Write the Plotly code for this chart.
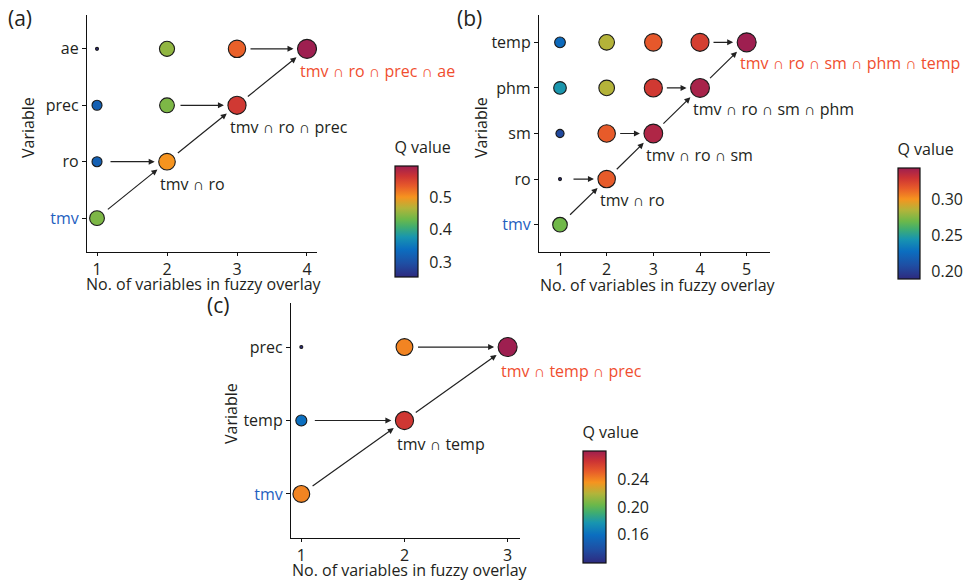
import numpy as np
import plotly.graph_objects as go

W, H = 965, 581

# ---------------- data ----------------
a_vars = ["tmv", "ro", "prec", "ae"]
a_x = [1, 1, 1, 1, 2, 2, 2, 3, 3, 4]
a_var = ["tmv", "ro", "prec", "ae", "ro", "prec", "ae", "prec", "ae", "ae"]
a_q = [0.44, 0.32, 0.32, 0.255, 0.50, 0.44, 0.45, 0.56, 0.53, 0.595]
a_path = ["tmv", "ro", "prec", "ae"]
a_ticks = [0.3, 0.4, 0.5]

b_vars = ["tmv", "ro", "sm", "phm", "temp"]
b_x = [1, 1, 1, 1, 1, 2, 2, 2, 2, 3, 3, 3, 4, 4, 5]
b_var = ["tmv", "ro", "sm", "phm", "temp", "ro", "sm", "phm", "temp",
         "sm", "phm", "temp", "phm", "temp", "temp"]
b_q = [0.27, 0.189, 0.205, 0.245, 0.225, 0.315, 0.315, 0.285, 0.285,
       0.338, 0.327, 0.316, 0.34, 0.325, 0.343]
b_path = ["tmv", "ro", "sm", "phm", "temp"]
b_ticks = [0.20, 0.25, 0.30]

c_vars = ["tmv", "temp", "prec"]
c_x = [1, 1, 1, 2, 2, 3]
c_var = ["tmv", "temp", "prec", "temp", "prec", "prec"]
c_q = [0.24, 0.16, 0.119, 0.265, 0.24, 0.281]
c_path = ["tmv", "temp", "prec"]
c_ticks = [0.16, 0.20, 0.24]

X_TITLE = "No. of variables in fuzzy overlay"
Y_TITLE = "Variable"
CB_TITLE = "Q value"

# ---------------- styles ----------------
FONT = "Open Sans"
TXT = "#231f20"
RED = "#f04e2f"
BLUE = "#1f5fbf"
COLORSCALE = [
    [0.00, "#2e2a7f"], [0.12, "#1f4ea3"], [0.25, "#0b6ec0"], [0.36, "#1895b0"],
    [0.45, "#40ad70"], [0.52, "#6cb84a"], [0.62, "#b2b43a"], [0.72, "#f6941f"],
    [0.82, "#e75a2a"], [0.91, "#cc3334"], [1.00, "#9e1f50"],
]
SMIN, SMAX = 3, 19


def sizes(q):
    q = np.asarray(q, float)
    return SMIN + (SMAX - SMIN) * np.sqrt((q - q.min()) / (q.max() - q.min()))


panels = [
    dict(vars=a_vars, x=a_x, var=a_var, q=a_q, path=a_path, ticks=a_ticks, tfmt="%.1f",
         xdom=(87, 317), ydom=(15, 252), xr=[0.857, 4.143],
         cb=dict(x=395, y0=163, y1=277, th=23), lab="(a)", labpos=(6, 18),
         tshift=(-9, -22), xt=(204, 284), yt=(28, 128)),
    dict(vars=b_vars, x=b_x, var=b_var, q=b_q, path=b_path, ticks=b_ticks, tfmt="%.2f",
         xdom=(539, 770), ydom=(15, 252), xr=[0.55, 5.5],
         cb=dict(x=898, y0=165, y1=279, th=22), lab="(b)", labpos=(455, 18),
         tshift=(-9, -21), xt=(658, 285), yt=(481, 128)),
    dict(vars=c_vars, x=c_x, var=c_var, q=c_q, path=c_path, ticks=c_ticks, tfmt="%.2f",
         xdom=(291, 520), ydom=(303, 538), xr=[0.9, 3.12],
         cb=dict(x=583, y0=448, y1=563, th=23), lab="(c)", labpos=(205, 305),
         tshift=(-9, -24), xt=(410, 570), yt=(231, 414)),
]

TITLE_H = 24  # pixels the colorbar title takes inside its length

fig = go.Figure()
layout = dict(width=W, height=H, margin=dict(l=0, r=0, t=0, b=0, autoexpand=False),
              paper_bgcolor="white", plot_bgcolor="white", showlegend=False,
              font=dict(family=FONT, color=TXT, size=16))
annotations = []


def paper(px, py):
    return px / W, 1 - py / H


for i, p in enumerate(panels):
    k = "" if i == 0 else str(i + 1)
    xa, ya, ca = "x" + k, "y" + k, "coloraxis" + k
    yidx = {v: j + 1 for j, v in enumerate(p["vars"])}
    yv = [yidx[v] for v in p["var"]]
    sz = sizes(p["q"])
    fig.add_trace(go.Scatter(
        x=p["x"], y=yv, mode="markers", xaxis=xa, yaxis=ya,
        marker=dict(size=sz, color=p["q"], coloraxis=ca,
                    line=dict(color="#1a1a1a", width=1.1), opacity=1),
        hoverinfo="skip"))

    szmap = {(xx, vv): s for xx, vv, s in zip(p["x"], p["var"], sz)}

    path = p["path"]
    for step in range(1, len(path)):
        tx, tv = step + 1, path[step]
        sources = [(step, path[step - 1]), (step, tv)]
        for sx, sv in sources:
            annotations.append(dict(
                x=tx, y=yidx[tv], ax=sx, ay=yidx[sv], xref=xa, yref=ya,
                axref=xa, ayref=ya, text="", showarrow=True, arrowhead=2,
                arrowsize=1, arrowwidth=1.2, arrowcolor="#222222",
                standoff=szmap[(tx, tv)] / 2 + 4, startstandoff=12))
        label = " \u2229 ".join(path[:step + 1])
        last = step == len(path) - 1
        annotations.append(dict(
            x=tx, y=yidx[tv], xref=xa, yref=ya, text=label, showarrow=False,
            xanchor="left", yanchor="middle", xshift=p["tshift"][0],
            yshift=p["tshift"][1],
            font=dict(family=FONT, size=16, color=RED if last else TXT)))

    ticktext = [f"<span style='color:{BLUE}'>{v}</span>" if v == "tmv" else v
                for v in p["vars"]]
    x0, x1 = p["xdom"]
    y0, y1 = p["ydom"]
    axis_common = dict(showline=True, linecolor="#111", linewidth=1.2,
                       ticks="outside", ticklen=4, tickwidth=1.2, tickcolor="#111",
                       showgrid=False, zeroline=False, automargin=False,
                       tickfont=dict(family=FONT, size=16, color=TXT))
    layout["xaxis" + k] = dict(
        axis_common, domain=[x0 / W, x1 / W], range=p["xr"], anchor=ya,
        ticklen=3, tickvals=list(range(1, len(p["vars"]) + 1)))
    layout["yaxis" + k] = dict(
        axis_common, domain=[1 - y1 / H, 1 - y0 / H],
        range=[0.4, len(p["vars"]) + 0.6], anchor=xa,
        tickvals=list(range(1, len(p["vars"]) + 1)), ticktext=ticktext)

    # axis titles
    tx_, ty_ = paper(*p["xt"])
    annotations.append(dict(x=tx_, y=ty_, xref="paper", yref="paper", text=X_TITLE,
                            showarrow=False, xanchor="center", yanchor="middle",
                            font=dict(family=FONT, size=16, color=TXT)))
    tx_, ty_ = paper(*p["yt"])
    annotations.append(dict(x=tx_, y=ty_, xref="paper", yref="paper", text=Y_TITLE,
                            showarrow=False, xanchor="center", yanchor="middle",
                            textangle=-90, font=dict(family=FONT, size=16, color=TXT)))

    cb = p["cb"]
    layout[ca] = dict(
        colorscale=COLORSCALE, cmin=min(p["q"]), cmax=max(p["q"]),
        colorbar=dict(
            title=dict(text=CB_TITLE, side="top",
                       font=dict(family=FONT, size=16, color=TXT)),
            x=cb["x"] / W, xanchor="left",
            y=1 - (cb["y0"] - TITLE_H) / H, yanchor="top",
            len=cb["y1"] - cb["y0"] + TITLE_H, lenmode="pixels",
            thickness=cb["th"], thicknessmode="pixels",
            outlinewidth=1.2, outlinecolor="#111", xpad=0, ypad=0,
            ticks="outside", tickcolor="rgba(255,255,255,0)", ticklen=8,
            tickvals=p["ticks"], ticktext=[p["tfmt"] % t for t in p["ticks"]],
            tickfont=dict(family=FONT, size=16, color=TXT)))

    lx, ly = paper(*p["labpos"])
    annotations.append(dict(
        x=lx, y=ly, xref="paper", yref="paper",
        text=p["lab"], showarrow=False, xanchor="left", yanchor="middle",
        font=dict(family=FONT, size=21, color=TXT)))

layout["annotations"] = annotations
fig.update_layout(**layout)
fig.write_html("out.html", config={"displayModeBar": False},
               post_script="document.body.style.margin='0';document.body.style.padding='0';")
